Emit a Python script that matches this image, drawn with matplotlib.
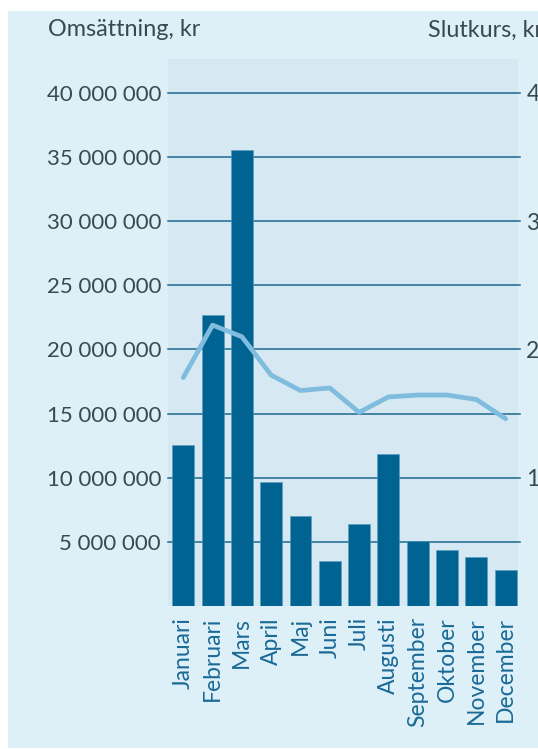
import matplotlib
matplotlib.use('Agg')
import matplotlib.pyplot as plt
from matplotlib.patches import Rectangle
from matplotlib.ticker import FuncFormatter

# Data
months = ['Januari', 'Februari', 'Mars', 'April', 'Maj', 'Juni', 'Juli',
          'Augusti', 'September', 'Oktober', 'November', 'December']
turnover = [12.55e6, 22.67e6, 35.56e6, 9.69e6, 6.99e6, 3.54e6,
            6.37e6, 11.85e6, 5.04e6, 4.37e6, 3.85e6, 2.78e6]
close_price = [1.78, 2.19, 2.10, 1.80, 1.68, 1.70,
               1.51, 1.63, 1.645, 1.645, 1.61, 1.46]
left_ticks = [5e6, 10e6, 15e6, 20e6, 25e6, 30e6, 35e6, 40e6]
right_ticks = [1, 2, 3, 4]

plt.rcParams['font.family'] = ['Lato', 'DejaVu Sans']

W, H = 538, 749
fig = plt.figure(figsize=(W / 100, H / 100), dpi=100)
fig.patch.set_facecolor('white')
fig.patches.append(Rectangle((8 / W, 1 / H), 1, 1 - 12 / H, transform=fig.transFigure,
                             facecolor='#ddf0f8', edgecolor='none', zorder=-5))

ax = fig.add_axes([168 / W, 1 - 606 / H, 350 / W, 547 / H])
ax.set_facecolor('#d6e9f3')
for s in ax.spines.values():
    s.set_visible(False)

x = list(range(len(months)))
ymax = 42.65e6
ax.set_ylim(0, ymax)
ax.set_xlim(-0.52, 11.42)

for t in left_ticks:
    ax.axhline(t, xmin=0, xmax=1.006, color='#1d6891', lw=1.1, zorder=1, clip_on=False)

ax.bar(x, turnover, width=0.75, color='#006391', edgecolor='#5b9cc0', linewidth=0.4, zorder=2)

ax.set_yticks(left_ticks)
ax.yaxis.set_major_formatter(FuncFormatter(lambda v, p: f'{int(v):,}'.replace(',', ' ')))
ax.tick_params(axis='y', length=0, pad=5, labelsize=16, labelcolor='#3a4850')
ax.set_xticks(x)
ax.set_xticklabels(months, rotation=90, fontsize=16.5, color='#1a6a96')
ax.tick_params(axis='x', length=0, pad=8)

ax2 = ax.twinx()
ax2.set_ylim(0, ymax / 1e7)
for s in ax2.spines.values():
    s.set_visible(False)
ax2.plot(x, close_price, color='#7fbcde', lw=3.4, solid_capstyle='round', zorder=3)
ax2.set_yticks(right_ticks)
ax2.set_yticklabels([str(t) for t in right_ticks])
ax2.tick_params(axis='y', length=0, pad=6, labelsize=16.5, labelcolor='#3a4850')

fig.text(48 / W, 1 - 30 / H, 'Omsättning, kr', fontsize=16.8, color='#3a4850', va='center', ha='left')
fig.text(428 / W, 1 - 30 / H, 'Slutkurs, kr', fontsize=16.8, color='#3a4850', va='center', ha='left')

fig.savefig('out.png', dpi=100)
